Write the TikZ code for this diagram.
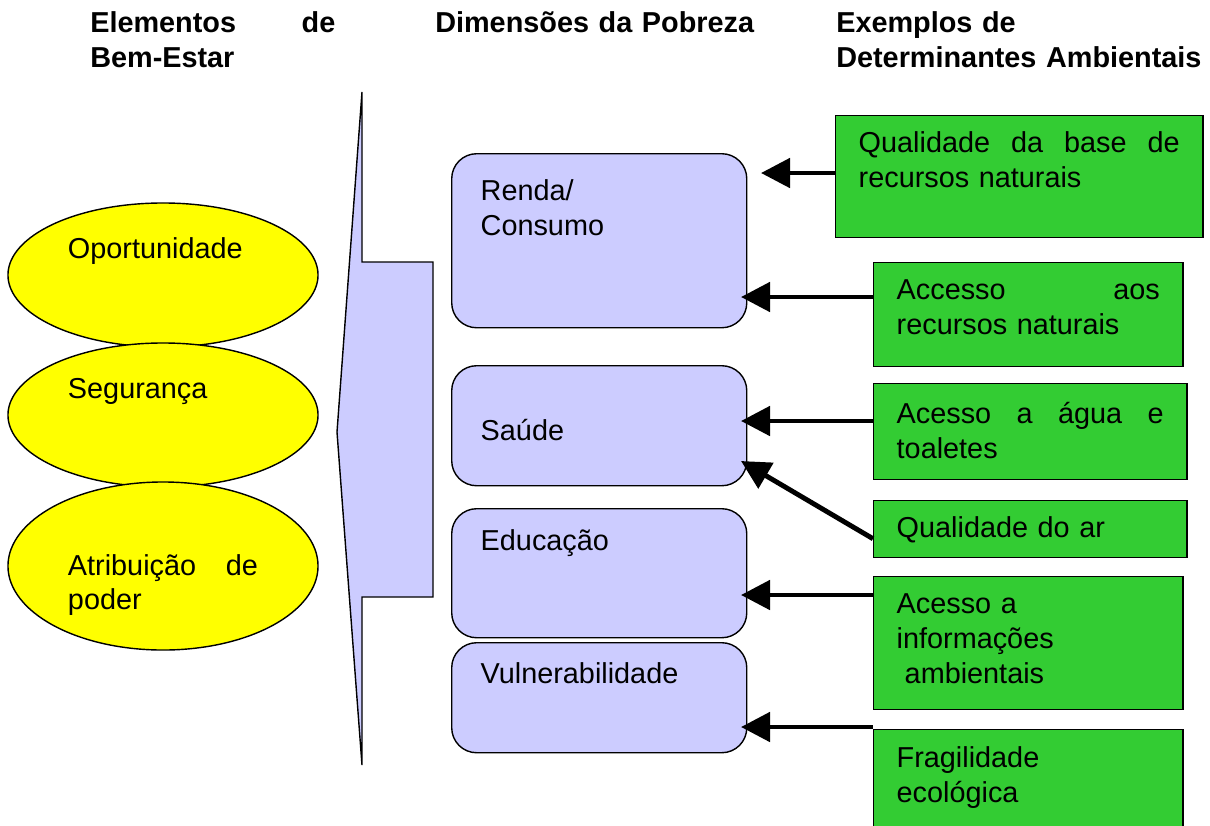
\documentclass[tikz,border=0pt]{standalone}
\usepackage{fontspec}
\setmainfont{Liberation Sans}
\usetikzlibrary{shapes.geometric,arrows.meta}
\definecolor{amarelo}{RGB}{255,255,0}
\definecolor{lilas}{RGB}{204,204,255}
\definecolor{verde}{RGB}{51,204,51}

\begin{document}
\begin{tikzpicture}[x=0.025cm, y=-0.025cm,
        font=\fontsize{20.5pt}{24.8pt}\selectfont,
        titulo/.style={anchor=base west, inner sep=0, align=left, text width=9.5cm, font=\fontsize{20.5pt}{25.5pt}\selectfont\bfseries},
        elipse/.style={ellipse, draw, line width=1pt, fill=amarelo, minimum width=7.75cm, minimum height=3.6cm, inner sep=0, text width=4.75cm, align=left},
        dimbox/.style={draw, line width=1pt, rounded corners=0.625cm, fill=lilas, anchor=north west, inner xsep=0.725cm, inner ysep=0, text width=5.925cm, align=left},
        verdebox/.style={draw, line width=1pt, fill=verde, anchor=north west, inner xsep=0.575cm, inner ysep=0, text height=0.925cm, align=left},
        seta/.style={line width=3.5pt, -{Triangle[length=0.725cm, width=0.725cm]}}]
        \useasboundingbox (0,0) rectangle (1210,825);

        % Column titles
        \node[titulo, text width=6.125cm] (h1) at (90,32) {Elementos\hfill de\\Bem-Estar};
        \node[titulo] (h2) at (435,32) {Dimensões da Pobreza};
        \node[titulo] (h3) at (836,32) {Exemplos de\\Determinantes Ambientais};

        % Well-being elements
        \node[elipse, text height=0.5cm, text depth=1.35cm] (e1) at (163,275) {Oportunidade};
        \node[elipse, text height=0.5cm, text depth=1.35cm] (e2) at (163,415) {Segurança};
        \node[elipse, minimum height=4.2cm, text height=1.425cm, text depth=0.975cm] (e3) at (163,566) {Atribuição\hfill de\\poder};

        % Big arrow pointing left
        \draw[line width=1pt, fill=lilas] (362,92) -- (362,262) -- (433,262) -- (433,597) -- (362,597) -- (362,765) -- (337,432) -- cycle;

        % Poverty dimensions
        \node[dimbox, text height=1.175cm, text depth=3.175cm] (d1) at (451,153) {Renda/\\Consumo};
        \node[dimbox, text height=1.875cm, text depth=1.125cm] (d2) at (451,365) {Saúde};
        \node[dimbox, text height=1.05cm, text depth=2.175cm] (d3) at (451,508) {Educação};
        \node[dimbox, text height=1.025cm, text depth=1.725cm] (d4) at (451,642) {Vulnerabilidade};

        % Environmental determinants
        \node[verdebox, text width=8.025cm, text depth=2.125cm] (g1) at (835,115) {Qualidade\hfill da\hfill base\hfill de\\recursos naturais};
        \node[verdebox, text width=6.575cm, text depth=1.675cm] (g2) at (873,262) {Accesso\hfill aos\\recursos naturais};
        \node[verdebox, text width=6.675cm, text height=1cm, text depth=1.4cm] (g3) at (873,383) {Acesso\hfill a\hfill água\hfill e\\toaletes};
        \node[verdebox, text width=6.675cm, text depth=0.5cm] (g4) at (873,500) {Qualidade do ar};
        \node[verdebox, text width=6.575cm, text depth=2.4cm] (g5) at (873,576) {Acesso a\\informações\\\hspace*{0.2cm}ambientais};
        \node[verdebox, text width=6.575cm, text height=0.95cm, text depth=1.55cm] (g6) at (873,729) {Fragilidade\\ecológica};

        % Arrow tips
        \coordinate (t1) at (761,173);
        \coordinate (t2) at (741,297);
        \coordinate (t3) at (741,421);
        \coordinate (t4) at (741,461);
        \coordinate (t5) at (741,595);
        \coordinate (t6) at (741,727);

        \draw[seta] (g1.west |- t1) -- (t1);
        \draw[seta] (g2.west |- t2) -- (t2);
        \draw[seta] (g3.west |- t3) -- (t3);
        \draw[seta] ([yshift=-0.2375cm]g4.west) -- (t4);
        \draw[seta] (g5.west |- t5) -- (t5);
        \draw[seta] (g6.west |- t6) -- (t6);

    \end{tikzpicture}
\end{document}
